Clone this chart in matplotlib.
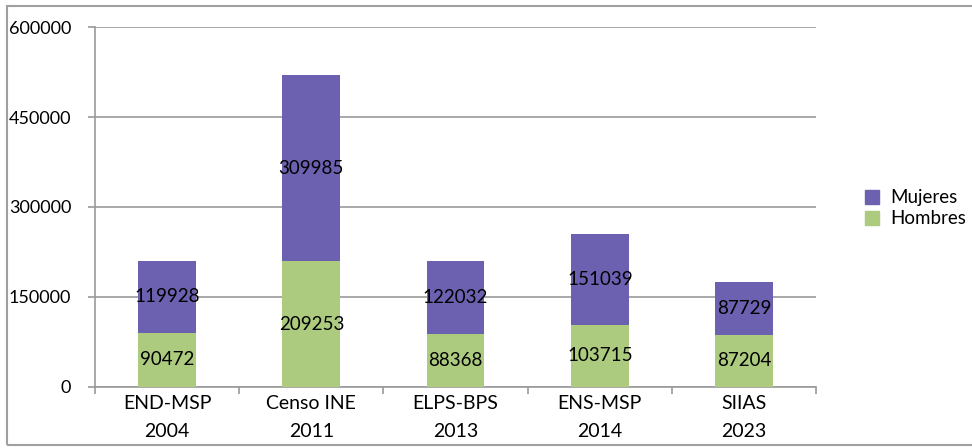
import matplotlib.pyplot as plt
from matplotlib.patches import Rectangle, Patch

categories = ['END-MSP\n2004', 'Censo INE\n2011', 'ELPS-BPS\n2013', 'ENS-MSP\n2014', 'SIIAS\n2023']
hombres = [90472, 209253, 88368, 103715, 87204]
mujeres = [119928, 309985, 122032, 151039, 87729]

PURPLE = '#6c60b0'
GREEN = '#adcb7e'
GRID = '#9a9a9a'

plt.rcParams['font.family'] = ['Lato', 'DejaVu Sans']

fig = plt.figure(figsize=(9.72, 4.48), dpi=100)
ax = fig.add_axes([0.0977, 0.1362, 0.742, 0.8035])

x = range(len(categories))
ax.bar(x, hombres, width=0.4, color=GREEN, zorder=3, label='Hombres')
ax.bar(x, mujeres, width=0.4, bottom=hombres, color=PURPLE, zorder=3, label='Mujeres')

for i in x:
    ax.text(i, hombres[i] / 2, str(hombres[i]), ha='center', va='center',
            fontsize=13.5, zorder=4)
    ax.text(i, hombres[i] + mujeres[i] / 2, str(mujeres[i]), ha='center',
            va='center', fontsize=13.5, zorder=4)

ax.set_xlim(-0.5, len(categories) - 0.5)
ax.set_ylim(0, 600000)
ax.set_yticks([0, 150000, 300000, 450000, 600000])
ax.set_yticklabels(['0', '150000', '300000', '450000', '600000'])
ax.yaxis.grid(True, color=GRID, linewidth=1.2, zorder=0)
ax.set_axisbelow(True)

# category ticks sit on the boundaries between groups
ax.set_xticks([i - 0.5 for i in range(len(categories) + 1)], minor=False)
ax.set_xticklabels([''] * (len(categories) + 1))
ax.set_xticks(list(x), minor=True)
ax.set_xticklabels(categories, minor=True, fontsize=14, linespacing=1.75)
ax.tick_params(axis='x', which='minor', length=0, pad=6)
ax.tick_params(axis='x', which='major', length=5, color=GRID, width=1.2)
ax.tick_params(axis='y', length=5, color=GRID, width=1.2, labelsize=13, pad=12)

for side in ['top', 'right']:
    ax.spines[side].set_visible(False)
for side in ['left', 'bottom']:
    ax.spines[side].set_color(GRID)
    ax.spines[side].set_linewidth(1.2)

handles = [Patch(color=PURPLE, label='Mujeres'), Patch(color=GREEN, label='Hombres')]
fig.legend(handles=handles, loc='center left', bbox_to_anchor=(0.878, 0.535),
           frameon=False, fontsize=13.5, handlelength=0.75, handleheight=0.75,
           handletextpad=0.6, labelspacing=0.2, borderaxespad=0.2)

fig.patches.append(Rectangle((0.007, 0.006), 1.2, 0.98, transform=fig.transFigure,
                             fill=False, edgecolor='#a0a0a0', linewidth=1.5))

fig.savefig('out.png', dpi=100)
